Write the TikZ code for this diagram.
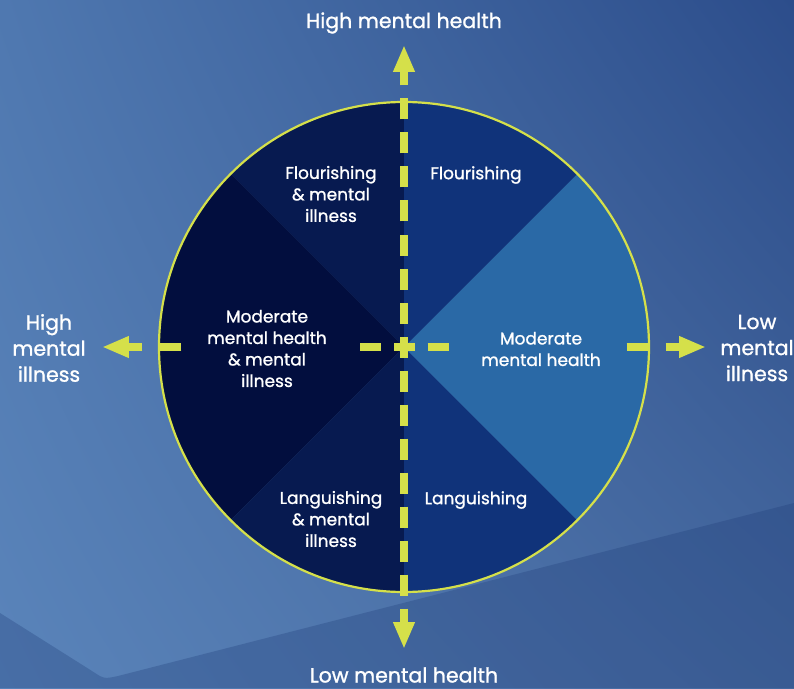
\documentclass[tikz,border=0pt]{standalone}
\usepackage{fontspec}
\setmainfont{Poppins}[FakeBold=1.1]
\usepackage{xcolor}
\usepackage{tikz}
\usetikzlibrary{arrows.meta}
\usetikzlibrary{shadings}
\usetikzlibrary{positioning}

\definecolor{bgll}{HTML}{5A84BA}
\definecolor{bgul}{HTML}{4F78B0}
\definecolor{bglr}{HTML}{46699F}
\definecolor{bgur}{HTML}{2C4D8B}
\definecolor{band}{HTML}{1E3C78}
\definecolor{darkest}{HTML}{020E3E}
\definecolor{dark}{HTML}{071A50}
\definecolor{mid}{HTML}{10337A}
\definecolor{light}{HTML}{2A69A6}
\definecolor{lime}{HTML}{D5E04A}

\tikzstyle{axis} = [draw=lime, line width=8pt, dash pattern=on 21pt off 13pt,
    dash phase=10.5pt, -{Triangle[length=27pt,width=20pt]}]
\tikzstyle{axisgap} = [axis, dash pattern=on 10.5pt off 13pt on 21pt off 178pt
    on 22pt off 17pt on 60pt, dash phase=0pt]
\tikzstyle{wheel} = [circle, draw=lime, line width=2.2pt, minimum size=490pt,
    inner sep=0pt]
\tikzstyle{axislabel} = [text=white, align=center,
    font=\fontsize{20.5}{26}\selectfont]
\tikzstyle{sectorlabel} = [text=white, align=center,
    font=\fontsize{17}{21.5}\selectfont]

\begin{document}
\begin{tikzpicture}[x=1pt, y=1pt]
  \useasboundingbox (-404,-341) rectangle (390,347);
  % Background
  \shade[lower left=bgll, upper left=bgul, lower right=bglr, upper right=bgur]
    (-404,-341) rectangle (390,347);
  \fill[band, opacity=0.3] (-404,-266) -- (-312,-324)
    .. controls (-300,-332) .. (-286,-329) -- (390,-156)
    -- (390,-341) -- (-404,-341) -- cycle;
  % Sectors
  \coordinate (c) at (0,0);
  \fill[dark] (c) -- (90:245) arc (90:135:245) -- cycle;
  \fill[darkest] (c) -- (135:245) arc (135:225:245) -- cycle;
  \fill[dark] (c) -- (225:245) arc (225:270:245) -- cycle;
  \fill[mid] (c) -- (270:245) arc (270:315:245) -- cycle;
  \fill[light] (c) -- (-45:245) arc (-45:45:245) -- cycle;
  \fill[mid] (c) -- (45:245) arc (45:90:245) -- cycle;
  \node[wheel] (circ) at (c) {};
  % Axes
  \coordinate (tiptop) at (0,302);
  \coordinate (tipbottom) at (0,-302);
  \coordinate (tipleft) at (-302,0);
  \coordinate (tipright) at (302,0);
  \path[axis] (c) -- (tiptop);
  \path[axis] (c) -- (tipbottom);
  \path[axisgap] (c) -- (tipleft);
  \path[axisgap] (c) -- (tipright);
  % Place nodes
  \node[axislabel] (hmh) at (0,324) {High mental health};
  \node[axislabel] (lmh) at (0,-328) {Low mental health};
  \node[axislabel] (hmi) at (-355,-1) {High\\mental\\illness};
  \node[axislabel] (lmi) at (353,-1) {Low\\mental\\illness};
  \node[sectorlabel] (flmi) at (-73,153) {Flourishing\\\& mental\\illness};
  \node[sectorlabel] (fl) at (72,172) {Flourishing};
  \node[sectorlabel] (mmhmi) at (-137,-1.5) {Moderate\\mental health\\\& mental\\illness};
  \node[sectorlabel] (mmh) at (137,-2) {Moderate\\mental health};
  \node[sectorlabel] (lami) at (-73,-172) {Languishing\\\& mental\\illness};
  \node[sectorlabel] (la) at (72,-153) {Languishing};
\end{tikzpicture}
\end{document}
